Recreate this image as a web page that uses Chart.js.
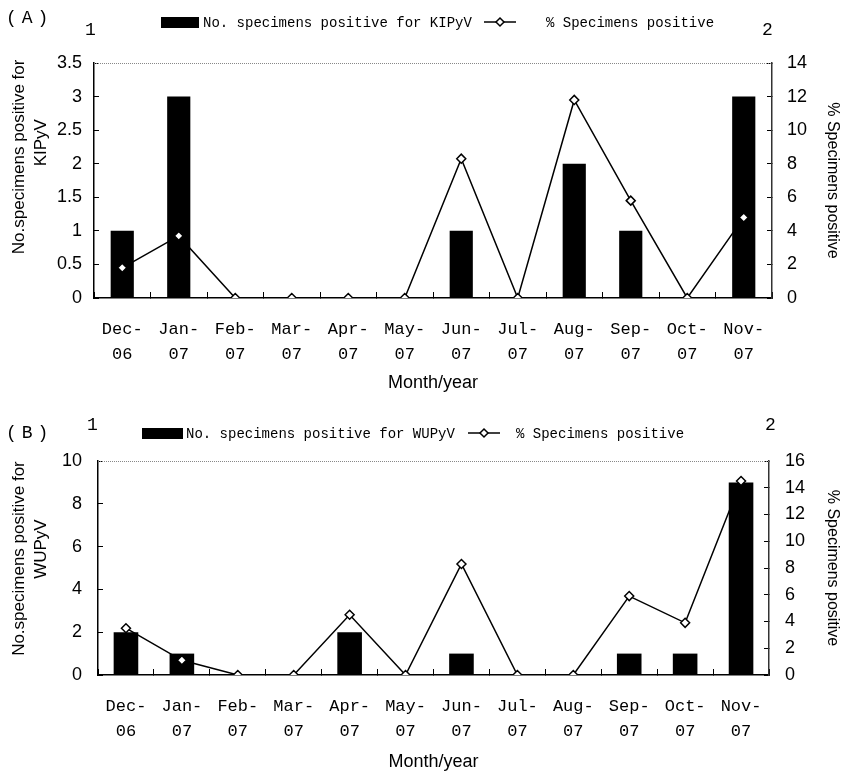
<!DOCTYPE html>
<html><head><meta charset="utf-8">
<script src="https://cdn.jsdelivr.net/npm/chart.js@4.4.1/dist/chart.umd.min.js"></script>
<style>
html,body{margin:0;padding:0;background:#fff;}
#wrap{position:relative;width:843px;height:774px;overflow:hidden;}
canvas{position:absolute;left:0;}
</style></head><body>
<div id="wrap">
<canvas id="cA" width="843" height="395" style="top:0px"></canvas>
<canvas id="cB" width="843" height="379" style="top:395px"></canvas>
</div>
<script>
// ---- data ----
const months = [['Dec-','06'],['Jan-','07'],['Feb-','07'],['Mar-','07'],['Apr-','07'],['May-','07'],
                ['Jun-','07'],['Jul-','07'],['Aug-','07'],['Sep-','07'],['Oct-','07'],['Nov-','07']];
const kipyvCounts  = [1, 3, 0, 0, 0, 0, 1, 0, 2, 1, 0, 3];
const kipyvPercent = [1.8, 3.7, 0, 0, 0, 0, 8.3, 0, 11.8, 5.8, 0, 4.8];
const wupyvCounts  = [2, 1, 0, 0, 2, 0, 1, 0, 0, 1, 1, 9];
const wupyvPercent = [3.5, 1.1, 0, 0, 4.5, 0, 8.3, 0, 0, 5.9, 3.9, 14.5];
const countAxisA = {max: 3.5, step: 0.5};
const pctAxisA   = {max: 14, step: 2};
const countAxisB = {max: 10, step: 2};
const pctAxisB   = {max: 16, step: 2};

const SANS = '"Liberation Sans", Arial, sans-serif';
const MONO = '"Liberation Mono", "Courier New", monospace';

const decor = {
  id: 'decor',
  afterDraw(chart, args, o) {
    const ctx = chart.ctx, ca = chart.chartArea;
    ctx.save();
    // dotted top border
    ctx.strokeStyle = '#888'; ctx.lineWidth = 1; ctx.setLineDash([1, 1]);
    ctx.beginPath(); ctx.moveTo(ca.left, Math.round(ca.top) + 0.5); ctx.lineTo(ca.right, Math.round(ca.top) + 0.5); ctx.stroke();
    ctx.setLineDash([]);
    ctx.fillStyle = '#000'; ctx.textBaseline = 'middle'; ctx.textAlign = 'left';
    // panel letter and axis numbers
    ctx.font = '18px ' + MONO;
    if ('letterSpacing' in ctx) ctx.letterSpacing = '5px';
    ctx.fillText(o.panel, o.panelX, o.panelY);
    if ('letterSpacing' in ctx) ctx.letterSpacing = '0px';
    ctx.fillText('1', o.oneX, o.numY);
    ctx.fillText('2', o.twoX, o.numY);
    // legend
    const y = o.legY;
    ctx.fillRect(o.boxX, y - 5, o.boxW, 11);
    ctx.font = '14px ' + MONO;
    ctx.fillText(o.label1, o.text1X, y + 1);
    ctx.strokeStyle = '#000'; ctx.lineWidth = 1.5;
    ctx.beginPath(); ctx.moveTo(o.lineX1, y); ctx.lineTo(o.lineX2, y); ctx.stroke();
    const cx = (o.lineX1 + o.lineX2) / 2, r = 4;
    ctx.beginPath(); ctx.moveTo(cx, y - r); ctx.lineTo(cx + r, y); ctx.lineTo(cx, y + r); ctx.lineTo(cx - r, y); ctx.closePath();
    ctx.fillStyle = '#fff'; ctx.fill(); ctx.stroke();
    ctx.fillStyle = '#000';
    ctx.fillText(o.label2, o.text2X, y + 1);
    ctx.restore();
  }
};

function makeChart(id, counts, pct, cAx, pAx, leftTitle, area, barPct, rightPad, leftPad, deco) {
  const canvas = document.getElementById(id);
  const W = canvas.width, H = canvas.height;
  return new Chart(canvas, {
    type: 'bar',
    data: {
      labels: months,
      datasets: [
        { type: 'line', data: pct, yAxisID: 'y1', order: 0,
          borderColor: '#000', borderWidth: 1.5, tension: 0,
          pointStyle: 'rectRot', pointRadius: 4.5, pointBackgroundColor: '#fff',
          pointBorderColor: '#000', pointBorderWidth: 1.5 },
        { type: 'bar', data: counts, yAxisID: 'y', order: 1,
          backgroundColor: '#000', borderWidth: 0,
          categoryPercentage: 1, barPercentage: barPct }
      ]
    },
    options: {
      responsive: false, animation: false, devicePixelRatio: 1,
      layout: { padding: { top: area.top, left: 0, right: 0, bottom: 0 } },
      plugins: { legend: { display: false }, tooltip: { enabled: false }, decor: deco },
      scales: {
        x: {
          type: 'category', offset: true,
          grid: { offset: true, drawOnChartArea: false, tickLength: -6, color: '#000', lineWidth: 1 },
          border: { display: true, color: '#000', width: 1.5 },
          ticks: { color: '#000', font: { family: MONO, size: 17, lineHeight: 1.47 }, padding: 25, maxRotation: 0, autoSkip: false },
          title: { display: true, text: 'Month/year', color: '#000', font: { family: SANS, size: 18 }, padding: { top: 0, bottom: 1 } },
          afterFit: s => { s.height = H - area.bottom; }
        },
        y: {
          position: 'left', min: 0, max: cAx.max,
          grid: { drawOnChartArea: false, tickLength: -5, color: '#000', lineWidth: 1 },
          border: { display: true, color: '#000', width: 1.5 },
          ticks: { stepSize: cAx.step, color: '#000', font: { family: SANS, size: 18 }, padding: leftPad,
                   callback: v => String(v) },
          title: { display: true, text: leftTitle, color: '#000', font: { family: SANS, size: 17, lineHeight: 1.3 }, padding: { top: 8, bottom: 0 } },
          afterFit: s => { s.width = area.left; }
        },
        y1: {
          position: 'right', min: 0, max: pAx.max,
          grid: { drawOnChartArea: false, tickLength: -5, color: '#000', lineWidth: 1 },
          border: { display: true, color: '#333', width: 1.5 },
          ticks: { stepSize: pAx.step, color: '#000', font: { family: SANS, size: 18 }, padding: rightPad,
                   callback: v => String(v) },
          title: { display: true, text: '% Specimens positive', color: '#000', font: { family: SANS, size: 16, lineHeight: 1.2 }, padding: { top: 1, bottom: 0 } },
          afterFit: s => { s.width = W - area.right; }
        }
      }
    },
    plugins: [decor]
  });
}

const sp = n => ' '.repeat(n);

makeChart('cA', kipyvCounts, kipyvPercent, countAxisA, pctAxisA,
  [sp(10) + 'No.specimens positive for', sp(16) + 'KIPyV'],
  { left: 94, right: 772, top: 63, bottom: 298 }, 0.41, 20, 17,
  { panel: '(A)', panelX: 6, panelY: 18, oneX: 85, twoX: 762, numY: 30,
    legY: 22, boxX: 161, boxW: 38, text1X: 203, label1: 'No. specimens positive for KIPyV',
    lineX1: 484, lineX2: 516, text2X: 546, label2: '% Specimens positive' });

makeChart('cB', wupyvCounts, wupyvPercent, countAxisB, pctAxisB,
  [sp(4) + 'No.specimens positive for', sp(8) + 'WUPyV'],
  { left: 98, right: 769, top: 66, bottom: 280 }, 0.44, 21, 21,
  { panel: '(B)', panelX: 6, panelY: 38, oneX: 87, twoX: 765, numY: 30,
    legY: 38, boxX: 142, boxW: 41, text1X: 186, label1: 'No. specimens positive for WUPyV',
    lineX1: 468, lineX2: 500, text2X: 516, label2: '% Specimens positive' });
</script>
</body></html>
